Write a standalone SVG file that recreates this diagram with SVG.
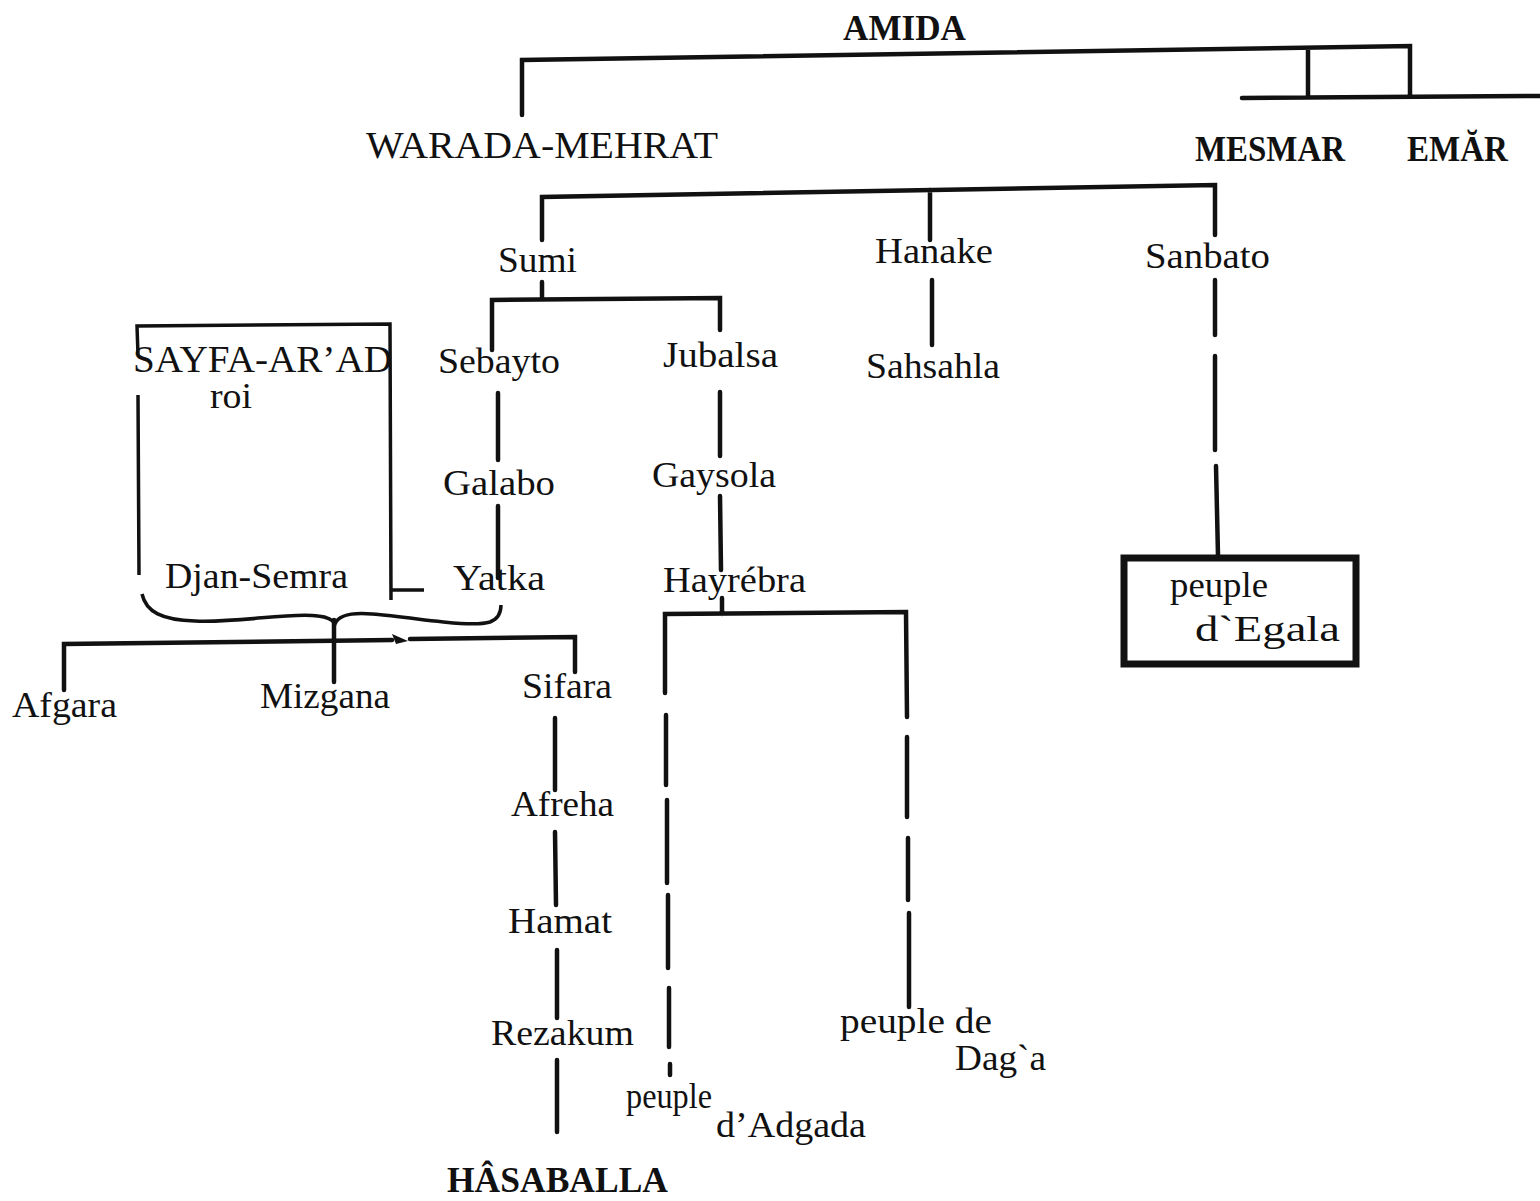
<svg xmlns="http://www.w3.org/2000/svg" width="1540" height="1201" viewBox="0 0 1540 1201">
<style>
text{font-family:"Liberation Serif","DejaVu Serif",serif;font-size:35px;fill:#111}
.b{font-weight:bold;font-size:36px}
.cap{font-size:38px}
.ln{stroke:#111;stroke-width:4.5;fill:none;stroke-linecap:round}
.th{stroke:#111;stroke-width:3.5;fill:none}
.box{stroke:#111;stroke-width:7;fill:none}
</style>
<rect width="1540" height="1201" fill="#fff"/>
<g id="connectors">
<path class="ln" d="M522,115 L522,60 L1410,46 L1410,96 M1308,50 L1308,96 M1242,98 L1540,96"/>
<path class="ln" d="M542,240 L542,197 L1215,185 L1215,235 M930,190 L930,240"/>
<path class="ln" d="M542,282 L542,299 M492,350 L492,300 L720,298 L720,330"/>
<path class="ln" d="M932,280 L932,345"/>
<path class="ln" d="M1215,280 L1215,335 M1215,356 L1215,450 M1216,466 L1218,556"/>
<path class="ln" d="M498,393 L498,460 M498,506 L498,578"/>
<path class="ln" d="M720,392 L720,456 M720,496 L721,570"/>
<path class="ln" d="M722,598 L722,614 M665,693 L665,614 L906,612 L907,717 M666,715 L666,785 M667,800 L667,883 M668,895 L668,968 M669,988 L669,1047 M670,1064 L670,1075 M907,737 L907,817 M908,838 L908,900 M909,913 L909,1007"/>
<path class="ln" d="M555,718 L555,790 M555,832 L556,905 M557,950 L557,1018 M557,1060 L557,1132"/>
<path class="th" d="M138,355 L137,326 L390,324 L391,600 M138,395 L139,575 M391,590 L424,590"/>
<path class="th" d="M142,594 C146,612 162,620 195,621 C240,623 290,612 318,616 C328,617 333,620 335,624 C338,616 348,612 372,614 C420,618 470,628 490,622 C498,619 501,612 501,605" stroke-width="4"/>
<path class="ln" d="M334,620 L334,682"/>
<path class="ln" d="M64,690 L64,644 L392,640 M410,639 L575,637 L575,672"/>
<path d="M392,634 L408,641 L396,644 Z" fill="#111"/>
<rect class="box" x="1124" y="558" width="232" height="106"/>
</g>
<g id="amida"><text class="b" x="843" y="40" textLength="123" lengthAdjust="spacingAndGlyphs">AMIDA</text></g>
<g id="warada"><text class="cap" x="366" y="158" textLength="352" lengthAdjust="spacingAndGlyphs">WARADA-MEHRAT</text></g>
<g id="mesmar"><text class="b" x="1195" y="161" textLength="150" lengthAdjust="spacingAndGlyphs">MESMAR</text></g>
<g id="emar"><text class="b" x="1407" y="161" textLength="101" lengthAdjust="spacingAndGlyphs">EMĂR</text></g>
<g id="sumi"><text x="498" y="272" textLength="79" lengthAdjust="spacingAndGlyphs">Sumi</text></g>
<g id="hanake"><text x="875" y="263" textLength="118" lengthAdjust="spacingAndGlyphs">Hanake</text></g>
<g id="sanbato"><text x="1145" y="268" textLength="125" lengthAdjust="spacingAndGlyphs">Sanbato</text></g>
<g id="sebayto"><text x="438" y="373" textLength="122" lengthAdjust="spacingAndGlyphs">Sebayto</text></g>
<g id="jubalsa"><text x="663" y="367" textLength="115" lengthAdjust="spacingAndGlyphs">Jubalsa</text></g>
<g id="sahsahla"><text x="866" y="378" textLength="134" lengthAdjust="spacingAndGlyphs">Sahsahla</text></g>
<g id="sayfa"><text class="cap" x="133" y="372" textLength="259" lengthAdjust="spacingAndGlyphs">SAYFA-AR’AD</text><text x="210" y="408" textLength="42" lengthAdjust="spacingAndGlyphs">roi</text></g>
<g id="galabo"><text x="443" y="495" textLength="112" lengthAdjust="spacingAndGlyphs">Galabo</text></g>
<g id="gaysola"><text x="652" y="487" textLength="124" lengthAdjust="spacingAndGlyphs">Gaysola</text></g>
<g id="yatka"><text x="453" y="590" textLength="92" lengthAdjust="spacingAndGlyphs">Yatka</text></g>
<g id="djan"><text x="165" y="588" textLength="183" lengthAdjust="spacingAndGlyphs">Djan-Semra</text></g>
<g id="hayrebra"><text x="663" y="592" textLength="143" lengthAdjust="spacingAndGlyphs">Hayrébra</text></g>
<g id="afgara"><text x="12" y="717" textLength="105" lengthAdjust="spacingAndGlyphs">Afgara</text></g>
<g id="mizgana"><text x="260" y="708" textLength="130" lengthAdjust="spacingAndGlyphs">Mizgana</text></g>
<g id="sifara"><text x="522" y="698" textLength="90" lengthAdjust="spacingAndGlyphs">Sifara</text></g>
<g id="afreha"><text x="511" y="816" textLength="103" lengthAdjust="spacingAndGlyphs">Afreha</text></g>
<g id="hamat"><text x="508" y="933" textLength="104" lengthAdjust="spacingAndGlyphs">Hamat</text></g>
<g id="rezakum"><text x="491" y="1045" textLength="143" lengthAdjust="spacingAndGlyphs">Rezakum</text></g>
<g id="adgada"><text x="626" y="1108" textLength="86" lengthAdjust="spacingAndGlyphs">peuple</text><text x="716" y="1137" textLength="150" lengthAdjust="spacingAndGlyphs">d’Adgada</text></g>
<g id="daga"><text x="840" y="1033" textLength="152" lengthAdjust="spacingAndGlyphs">peuple  de</text><text x="955" y="1070" textLength="91" lengthAdjust="spacingAndGlyphs">Dag`a</text></g>
<g id="egala"><text x="1170" y="597" textLength="98" lengthAdjust="spacingAndGlyphs">peuple</text><text x="1195" y="641" textLength="145" lengthAdjust="spacingAndGlyphs">d`Egala</text></g>
<g id="hasaballa"><text class="b" x="447" y="1192" textLength="221" lengthAdjust="spacingAndGlyphs">HÂSABALLA</text></g>
</svg>
